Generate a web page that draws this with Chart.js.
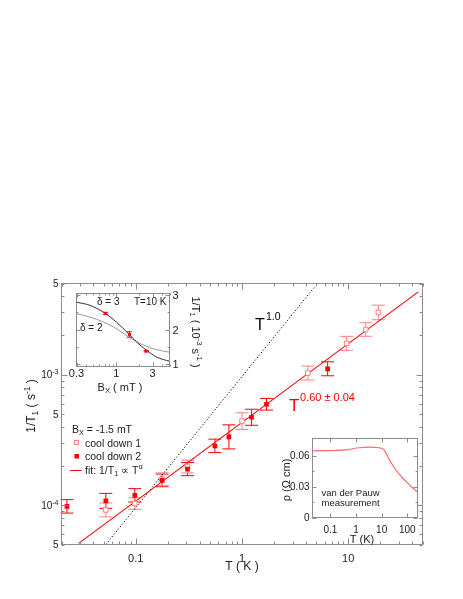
<!DOCTYPE html>
<html>
<head>
<meta charset="utf-8">
<script src="https://cdn.jsdelivr.net/npm/chart.js@4.4.1/dist/chart.umd.min.js"></script>
<style>
  body { margin:0; background:#fff; }
  #wrap { position:relative; width:463px; height:599px; }
  canvas { position:absolute; }
</style>
</head>
<body>
<div id="wrap">
  <canvas id="main" width="463" height="599" style="left:0;top:0"></canvas>
  <canvas id="ins1" width="150" height="115" style="left:60px;top:285px"></canvas>
  <canvas id="ins2" width="150" height="115" style="left:275px;top:430px"></canvas>
</div>
<script>
/* data */
// main panel: 1/T1 vs T
const tempCd2 = [0.0225, 0.0523, 0.098, 0.177, 0.307, 0.556, 0.753, 1.23, 1.70, 6.40];
const rateCd2 = [9.8e-5, 1.08e-4, 1.19e-4, 1.55e-4, 1.89e-4, 2.85e-4, 3.34e-4, 4.72e-4, 5.94e-4, 1.11e-3];
const errCd2  = [0.126, 0.141, 0.126, 0.118, 0.122, 0.126, 0.236, 0.152, 0.108, 0.131];
const tempCd1 = [0.0523, 0.098, 0.177, 0.307, 1.0, 4.17, 9.66, 14.6, 19.2];
const rateCd1 = [9.2e-5, 1.03e-4, 1.58e-4, 1.98e-4, 4.41e-4, 1.03e-3, 1.74e-3, 2.22e-3, 3.0e-3];
const errCd1  = [0.131, 0.106, 0.12, 0.12, 0.158, 0.131, 0.131, 0.127, 0.137];
const fitT  = [0.029, 45.6];
const fitY  = [5.1e-5, 4.31e-3];
const linT  = [0.0523, 4.78];
const linY  = [5e-5, 4.66e-3];
const xTickVals = [0.1, 1, 10];
const xTickText = ['0.1', '1', '10'];
const yTickVals = [5e-5, 1e-4, 5e-4, 1e-3, 5e-3];
const yTickText = ['5', '10|-4', '5', '10|-3', '5'];

// inset 1: 1/T1 vs Bx at T = 10 K
const bxD3 = [0.3, 0.45, 0.68, 1.0, 1.45, 1.86, 2.52, 3.4, 5.0];
const valD3 = [2.79, 2.70, 2.50, 2.22, 1.88, 1.64, 1.40, 1.21, 1.09];
const bxD2 = [0.3, 0.45, 0.68, 1.0, 1.45, 2.06, 3.07, 5.0];
const valD2 = [2.46, 2.36, 2.22, 2.03, 1.79, 1.60, 1.45, 1.35];
const bxPts = [0.72, 1.49, 2.47];
const valPts = [2.47, 1.86, 1.38];
const errPts = [0.03, 0.08, 0.02];
const in1XTicks = [0.3, 1, 3];
const in1YTicks = [1, 2, 3];

// inset 2: resistivity
const rhoT = [0.021, 0.41, 1.34, 3.3, 7.9, 12.4, 19.3, 30, 63, 132, 243];
const rhoV = [0.065, 0.066, 0.068, 0.0685, 0.068, 0.066, 0.057, 0.049, 0.039, 0.031, 0.025];
const in2XTicks = [0.1, 1, 10, 100];
const in2XText = ['0.1', '1', '10', '100'];
const in2YTicks = [0, 0.03, 0.06];
const in2YText = ['0', '0.03', '0.06'];

const FONT = '"Liberation Sans", Arial, Helvetica, sans-serif';
const RED = '#ff0000';
const PINK = '#ff8080';
const FRAME = '#8c8c8c';
const INK = '#222';

function pts(xs, ys){ return xs.map((x,i)=>({x, y:ys[i]})); }

// minor ticks for log axes, 2..9 each decade
function logMinor(lo, hi){
  const out = [];
  for (let d = Math.floor(Math.log10(lo)); d <= Math.ceil(Math.log10(hi)); d++) {
    for (let m = 2; m <= 9; m++) { const v = m * Math.pow(10, d); if (v >= lo*0.999 && v <= hi*1.001) out.push(v); }
  }
  return out;
}

// text with sub/superscripts; parts: 'txt' or ['txt','sup'|'sub']
function rich(ctx, parts, x, y, size, align, color){
  const segs = parts.map(p => typeof p === 'string' ? {t:p, m:0} : {t:p[0], m:p[1]==='sup'?1:-1});
  let w = 0;
  for (const s of segs) { ctx.font = (s.m ? size*0.7 : size) + 'px ' + FONT; s.w = ctx.measureText(s.t).width; w += s.w; }
  let cx = align === 'center' ? x - w/2 : align === 'right' ? x - w : x;
  ctx.fillStyle = color || INK; ctx.textAlign = 'left'; ctx.textBaseline = 'alphabetic';
  for (const s of segs) {
    ctx.font = (s.m ? size*0.7 : size) + 'px ' + FONT;
    const dy = s.m === 1 ? -size*0.42 : s.m === -1 ? size*0.22 : 0;
    ctx.fillText(s.t, cx, y + dy); cx += s.w;
  }
}
function parseTick(s){ const [a,b] = s.split('|'); return b ? [a, [b,'sup']] : [a]; }

// inward ticks on all four sides + frame
function frameTicks(spec){
  return {
    id: 'frameTicks',
    beforeDraw(chart){
      if (!spec.fill) return;
      const a = chart.chartArea, ctx = chart.ctx;
      ctx.save(); ctx.fillStyle = '#fff'; ctx.fillRect(a.left, a.top, a.right-a.left, a.bottom-a.top); ctx.restore();
    },
    afterDraw(chart){
      const {ctx, chartArea:a, scales} = chart;
      ctx.save();
      ctx.strokeStyle = FRAME; ctx.lineWidth = 1;
      ctx.beginPath();
      const xs = [[spec.xMajor, spec.major], [spec.xMinor, spec.minor]];
      for (const [vals, len] of xs) for (const v of vals) {
        const px = Math.round(scales.x.getPixelForValue(v)) + 0.5;
        ctx.moveTo(px, a.bottom); ctx.lineTo(px, a.bottom - len);
        ctx.moveTo(px, a.top); ctx.lineTo(px, a.top + len);
      }
      const ys = [[spec.yMajor, spec.major], [spec.yMinor, spec.minor]];
      for (const [vals, len] of ys) for (const v of vals) {
        const py = Math.round(scales.y.getPixelForValue(v)) + 0.5;
        ctx.moveTo(a.left, py); ctx.lineTo(a.left + len, py);
        ctx.moveTo(a.right, py); ctx.lineTo(a.right - len, py);
      }
      ctx.stroke();
      ctx.strokeRect(a.left, a.top, a.right-a.left, a.bottom-a.top);
      ctx.restore();
      if (spec.labels) spec.labels(chart);
    }
  };
}

// vertical error bars with caps
const errorBars = {
  id: 'errorBars',
  beforeDatasetsDraw(chart){
    const ctx = chart.ctx, ys = chart.scales.y;
    chart.data.datasets.forEach((ds, i) => {
      if (!ds.errs) return;
      const meta = chart.getDatasetMeta(i);
      ctx.save();
      ctx.strokeStyle = ds.errColor; ctx.lineWidth = 1;
      ctx.beginPath();
      ds.data.forEach((p, j) => {
        const x = meta.data[j].x;
        const e = ds.errs[j];
        const hi = ds.logErr ? p.y*(1+e) : p.y + e;
        const lo = ds.logErr ? p.y/(1+e) : p.y - e;
        const yh = ys.getPixelForValue(hi), yl = ys.getPixelForValue(lo);
        const c = ds.cap;
        ctx.moveTo(x, yh); ctx.lineTo(x, yl);
        ctx.moveTo(x-c, yh); ctx.lineTo(x+c, yh);
        ctx.moveTo(x-c, yl); ctx.lineTo(x+c, yl);
      });
      ctx.stroke();
      ctx.restore();
    });
  }
};

const common = {
  responsive: false, animation: false, devicePixelRatio: 1, events: [],
  plugins: { legend: { display:false }, tooltip: { enabled:false } }
};
const hidden = { ticks:{ display:false }, grid:{ display:false }, border:{ display:false } };

/* main chart */
function mainLabels(chart){
  const {ctx, chartArea:a, scales} = chart;
  ctx.save();
  yTickVals.forEach((v,i) => {
    const py = scales.y.getPixelForValue(v);
    rich(ctx, parseTick(yTickText[i]), a.left - 3, py + 3.5, 10, 'right');
  });
  xTickVals.forEach((v,i) => {
    rich(ctx, [xTickText[i]], scales.x.getPixelForValue(v), 562, 11, 'center');
  });
  rich(ctx, ['T ( K )'], 242, 570, 12, 'center');
  ctx.translate(35, 406); ctx.rotate(-Math.PI/2);
  rich(ctx, ['1/T', ['1','sub'], ' ( s', ['-1','sup'], ' )'], 0, 0, 12, 'center');
  ctx.restore();

  ctx.save();
  ctx.fillStyle = '#000'; ctx.textAlign = 'left'; ctx.textBaseline = 'alphabetic';
  ctx.font = '16px ' + FONT; ctx.fillText('T', 255, 330);
  ctx.font = '10.5px ' + FONT; ctx.fillText('1.0', 266, 320);
  ctx.fillStyle = RED;
  ctx.font = '17px ' + FONT; ctx.fillText('T', 289, 411);
  ctx.font = '11px ' + FONT; ctx.fillText('0.60 \u00b1 0.04', 300, 401);

  // legend
  rich(ctx, ['B', ['X','sub'], ' = -1.5 mT'], 72, 433, 10.5, 'left');
  ctx.strokeStyle = PINK; ctx.fillStyle = '#fff'; ctx.lineWidth = 1;
  ctx.fillRect(74.5, 440.5, 4, 4); ctx.strokeRect(74.5, 440.5, 4, 4);
  ctx.fillStyle = RED; ctx.fillRect(74.5, 454, 4.5, 4.5);
  ctx.strokeStyle = RED; ctx.beginPath(); ctx.moveTo(70, 470.5); ctx.lineTo(81.5, 470.5); ctx.stroke();
  rich(ctx, ['cool down 1'], 85, 446.5, 10.5, 'left');
  rich(ctx, ['cool down 2'], 85, 460, 10.5, 'left');
  rich(ctx, ['fit: 1/T', ['1','sub'], ' \u221d T', ['\u03b1','sup']], 85, 473.5, 10.5, 'left');
  ctx.restore();
}

new Chart(document.getElementById('main'), {
  type: 'scatter',
  data: { datasets: [
    { data: pts(tempCd2, rateCd2), errs: errCd2, logErr: true, errColor: RED, cap: 6.5,
      pointStyle: 'rect', pointRadius: 3.3, backgroundColor: RED, borderColor: RED, borderWidth: 0, order: 1 },
    { data: pts(tempCd1, rateCd1), errs: errCd1, logErr: true, errColor: PINK, cap: 6.5,
      pointStyle: 'rect', pointRadius: 3.2, backgroundColor: '#fff', borderColor: PINK, borderWidth: 1, order: 2 },
    { data: pts(fitT, fitY), showLine: true, borderColor: RED, borderWidth: 1.1, pointRadius: 0, order: 3 },
    { data: pts(linT, linY), showLine: true, borderColor: '#000', borderWidth: 1, borderDash: [1.2, 2], pointRadius: 0, order: 4 }
  ]},
  options: { ...common,
    layout: { padding: { top: 283.5, right: 40.5, left: 0, bottom: 0 } },
    scales: {
      x: { type:'logarithmic', min:0.02, max:50, ...hidden, afterFit: s => { s.height = 54.5; } },
      y: { type:'logarithmic', min:5e-5, max:5e-3, ...hidden, afterFit: s => { s.width = 61.5; } }
    }
  },
  plugins: [errorBars, frameTicks({
    xMajor: xTickVals, xMinor: logMinor(0.02, 50), yMajor: [1e-4, 1e-3], yMinor: logMinor(5e-5, 5e-3),
    major: 6, minor: 3, labels: mainLabels })]
});

/* inset 1 */
function ins1Labels(chart){
  const {ctx, chartArea:a, scales} = chart;
  ctx.save();
  in1XTicks.forEach(v => rich(ctx, [String(v)], scales.x.getPixelForValue(v), 92, 11, 'center'));
  in1YTicks.forEach(v => rich(ctx, [String(v)], a.right + 3, scales.y.getPixelForValue(v) + 4, 11, 'left'));
  rich(ctx, ['B', ['X','sub'], ' ( mT )'], 60, 106, 11, 'center');
  rich(ctx, ['\u03b4 = 3'], 37, 20, 10, 'left');
  rich(ctx, ['\u03b4 = 2'], 20, 46, 10, 'left');
  rich(ctx, ['T=10 K'], a.right - 3, 20, 10, 'right');
  ctx.translate(132, 47); ctx.rotate(Math.PI/2);
  rich(ctx, ['1/T', ['1','sub'], ' ( 10', ['-3','sup'], ' s', ['-1','sup'], ' )'], 0, 0, 11, 'center');
  ctx.restore();
}

new Chart(document.getElementById('ins1'), {
  type: 'scatter',
  data: { datasets: [
    { data: pts(bxPts, valPts), errs: errPts, logErr: false, errColor: RED, cap: 2.5,
      pointStyle: 'rect', pointRadius: 2, backgroundColor: RED, borderWidth: 0, order: 1 },
    { data: pts(bxD3, valD3), showLine: true, cubicInterpolationMode: 'monotone', borderColor: '#333', borderWidth: 1, pointRadius: 0, order: 2 },
    { data: pts(bxD2, valD2), showLine: true, cubicInterpolationMode: 'monotone', borderColor: '#9a9a9a', borderWidth: 1, pointRadius: 0, order: 3 }
  ]},
  options: { ...common,
    layout: { padding: { top: 8.5, left: 16.5, right: 0, bottom: 0 } },
    scales: {
      x: { type:'logarithmic', min:0.3, max:5, ...hidden, afterFit: s => { s.height = 33.5; } },
      y: { type:'linear', position:'right', min:0.94, max:3.04, ...hidden, afterFit: s => { s.width = 40.5; } }
    }
  },
  plugins: [errorBars, frameTicks({
    fill: true, xMajor: in1XTicks, xMinor: [0.4,0.5,0.6,0.7,0.8,0.9,2,4,5], yMajor: in1YTicks, yMinor: [1.5, 2.5],
    major: 4, minor: 2, labels: ins1Labels })]
});

/* inset 2 */
function ins2Labels(chart){
  const {ctx, chartArea:a, scales} = chart;
  ctx.save();
  in2YTicks.forEach((v,i) => rich(ctx, [in2YText[i]], a.left - 3, scales.y.getPixelForValue(v) + 3.5, 10, 'right'));
  in2XTicks.forEach((v,i) => rich(ctx, [in2XText[i]], scales.x.getPixelForValue(v), 102.5, 10, 'center'));
  rich(ctx, ['T (K)'], 87, 112.5, 11, 'center');
  rich(ctx, ['van der Pauw'], 46.5, 66, 9.5, 'left');
  rich(ctx, ['measurement'], 46.5, 76, 9.5, 'left');
  ctx.translate(15, 50); ctx.rotate(-Math.PI/2);
  rich(ctx, ['\u03c1 (\u03a9 cm)'], 0, 0, 11, 'center');
  ctx.restore();
}

new Chart(document.getElementById('ins2'), {
  type: 'scatter',
  data: { datasets: [
    { data: pts(rhoT, rhoV), showLine: true, cubicInterpolationMode: 'monotone', borderColor: '#ff6a6a', borderWidth: 1.2, pointRadius: 0 }
  ]},
  options: { ...common,
    layout: { padding: { top: 8.5, right: 7.5, left: 0, bottom: 0 } },
    scales: {
      x: { type:'logarithmic', min:0.02, max:250, ...hidden, afterFit: s => { s.height = 27.5; } },
      y: { type:'linear', min:0, max:0.077, ...hidden, afterFit: s => { s.width = 37.5; } }
    }
  },
  plugins: [frameTicks({
    fill: true, xMajor: in2XTicks, xMinor: [], yMajor: in2YTicks, yMinor: [0.015, 0.045],
    major: 4, minor: 2, labels: ins2Labels })]
});
</script>
</body>
</html>
